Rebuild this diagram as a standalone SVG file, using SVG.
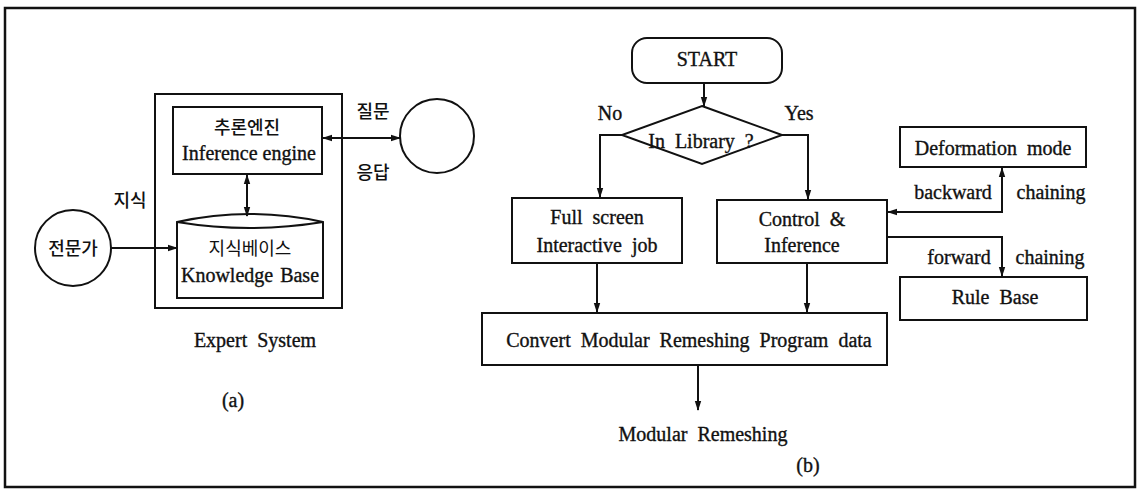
<svg xmlns="http://www.w3.org/2000/svg" width="1145" height="493" viewBox="0 0 1145 493">
<defs>
<style>
.ln{fill:none;stroke:#111;stroke-width:2}
.bx{fill:#fff;stroke:#111;stroke-width:2}
.fr{fill:none;stroke:#111;stroke-width:2}
.t{font-family:"Liberation Serif","Times New Roman",serif;font-size:20px;fill:#111;stroke:#111;stroke-width:0.35;word-spacing:5px}
.k{font-family:"Noto Sans CJK KR","Noto Sans",sans-serif;font-size:18px;font-weight:500;fill:#111}
</style>
<marker id="ah" viewBox="0 0 10 10" refX="9" refY="5" markerWidth="10" markerHeight="8" orient="auto-start-reverse" markerUnits="userSpaceOnUse" preserveAspectRatio="none">
<path d="M0,1 L10,5 L0,9 Z" fill="#111"/>
</marker>
</defs>
<rect x="0" y="0" width="1145" height="493" fill="#fff"/>
<rect x="5" y="8" width="1130" height="479" fill="none" stroke="#111" stroke-width="2.5"/>

<g id="expert-system">
<rect class="fr" x="155" y="94" width="187" height="214"/>
<text class="t" x="255" y="347" text-anchor="middle" font-family="Liberation Serif, serif">Expert System</text>
<text class="t" x="233" y="407" text-anchor="middle" font-family="Liberation Serif, serif">(a)</text>
</g>

<g id="inference-engine">
<rect class="bx" x="173" y="107" width="149" height="67"/>
<text class="k" x="247" y="134" text-anchor="middle">추론엔진</text>
<text class="t" x="249" y="160" text-anchor="middle" font-family="Liberation Serif, serif" style="word-spacing:0">Inference engine</text>
</g>

<g id="knowledge-base">
<path class="bx" d="M177,222 L177,298 L323,298 L323,222 Q250,206 177,222 Z"/>
<path class="ln" d="M177,222 Q250,234 323,222"/>
<text class="k" x="250" y="255" text-anchor="middle" style="font-weight:400">지식베이스</text>
<text class="t" x="250" y="282" text-anchor="middle" font-family="Liberation Serif, serif" style="word-spacing:2px">Knowledge Base</text>
</g>

<g id="expert">
<circle class="bx" cx="73" cy="248" r="38"/>
<text class="k" x="73" y="255" text-anchor="middle">전문가</text>
<text class="k" x="130" y="207" text-anchor="middle">지식</text>
</g>

<g id="user">
<circle class="bx" cx="437" cy="136" r="37"/>
<text class="k" x="373" y="118" text-anchor="middle">질문</text>
<text class="k" x="373" y="179" text-anchor="middle">응답</text>
</g>

<g id="start">
<rect class="bx" x="632" y="38" width="150" height="45" rx="15"/>
<text class="t" x="707" y="66" text-anchor="middle" font-family="Liberation Serif, serif">START</text>
</g>

<g id="in-library">
<polygon class="bx" points="702,106 782,135 702,164 622,135"/>
<text class="t" x="701" y="148" text-anchor="middle" font-family="Liberation Serif, serif">In Library ?</text>
<text class="t" x="610" y="120" text-anchor="middle" font-family="Liberation Serif, serif">No</text>
<text class="t" x="799" y="120" text-anchor="middle" font-family="Liberation Serif, serif">Yes</text>
</g>

<g id="full-screen">
<rect class="bx" x="512" y="198" width="170" height="65"/>
<text class="t" x="597" y="224" text-anchor="middle" font-family="Liberation Serif, serif">Full screen</text>
<text class="t" x="597" y="252" text-anchor="middle" font-family="Liberation Serif, serif">Interactive job</text>
</g>

<g id="control">
<rect class="bx" x="717" y="200" width="170" height="63"/>
<text class="t" x="802" y="226" text-anchor="middle" font-family="Liberation Serif, serif">Control &amp;</text>
<text class="t" x="802" y="252" text-anchor="middle" font-family="Liberation Serif, serif">Inference</text>
</g>

<g id="convert">
<rect class="bx" x="482" y="313" width="405" height="52"/>
<text class="t" x="689" y="347" text-anchor="middle" font-family="Liberation Serif, serif">Convert Modular Remeshing Program data</text>
</g>

<g id="modular-remeshing">
<text class="t" x="703" y="441" text-anchor="middle" font-family="Liberation Serif, serif">Modular Remeshing</text>
<text class="t" x="808" y="472" text-anchor="middle" font-family="Liberation Serif, serif">(b)</text>
</g>

<g id="deformation-mode">
<rect class="bx" x="900" y="127" width="186" height="40"/>
<text class="t" x="993" y="155" text-anchor="middle" font-family="Liberation Serif, serif">Deformation mode</text>
<text class="t" x="953" y="199" text-anchor="middle" font-family="Liberation Serif, serif">backward</text>
<text class="t" x="1051" y="199" text-anchor="middle" font-family="Liberation Serif, serif">chaining</text>
</g>

<g id="rule-base">
<rect class="bx" x="900" y="277" width="187" height="43"/>
<text class="t" x="995" y="304" text-anchor="middle" font-family="Liberation Serif, serif">Rule Base</text>
<text class="t" x="959" y="264" text-anchor="middle" font-family="Liberation Serif, serif">forward</text>
<text class="t" x="1050" y="264" text-anchor="middle" font-family="Liberation Serif, serif">chaining</text>
</g>

<g id="connectors">
<line class="ln" x1="247" y1="175" x2="247" y2="216" marker-start="url(#ah)" marker-end="url(#ah)"/>
<line class="ln" x1="323" y1="138" x2="400" y2="138" marker-start="url(#ah)" marker-end="url(#ah)"/>
<line class="ln" x1="111" y1="248" x2="177" y2="248" marker-end="url(#ah)"/>
<line class="ln" x1="704" y1="84" x2="704" y2="106" marker-end="url(#ah)"/>
<polyline class="ln" points="622,135 600,135 600,197" marker-end="url(#ah)"/>
<polyline class="ln" points="782,135 808,135 808,199" marker-end="url(#ah)"/>
<line class="ln" x1="597" y1="264" x2="597" y2="312" marker-end="url(#ah)"/>
<line class="ln" x1="807" y1="264" x2="807" y2="312" marker-end="url(#ah)"/>
<line class="ln" x1="698" y1="366" x2="698" y2="410" marker-end="url(#ah)"/>
<polyline class="ln" points="1002,168 1002,212 888,212" marker-start="url(#ah)" marker-end="url(#ah)"/>
<polyline class="ln" points="888,237 1002,237 1002,276" marker-end="url(#ah)"/>
</g>
</svg>
